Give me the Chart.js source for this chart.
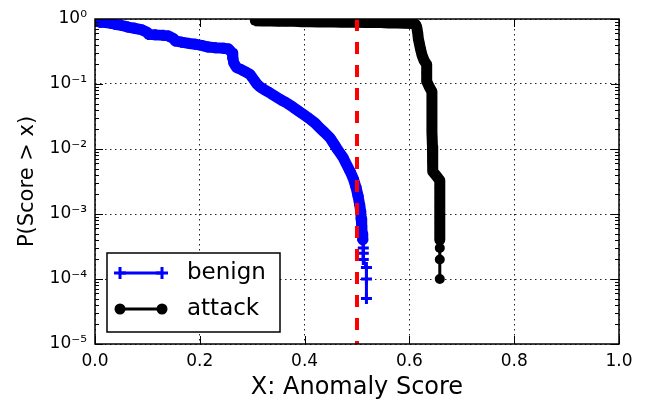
<!DOCTYPE html>
<html>
<head>
<meta charset="utf-8">
<script src="https://cdn.jsdelivr.net/npm/chart.js@4.4.0/dist/chart.umd.min.js"></script>
<style>
  html, body { margin: 0; padding: 0; background: #fff; }
  #wrap { width: 646px; height: 403px; }
</style>
</head>
<body>
<div id="wrap"><canvas id="ccdfChart" width="646" height="403"></canvas></div>
<script>
// values: score x and P(Score > x)
const benignX = [0.000, 0.005, 0.010, 0.020, 0.030, 0.038, 0.050, 0.063, 0.075, 0.090,
  0.100, 0.102, 0.115, 0.130, 0.140, 0.150, 0.153, 0.165, 0.180, 0.191,
  0.205, 0.216, 0.230, 0.245, 0.255, 0.262, 0.263, 0.265, 0.270, 0.280,
  0.290, 0.296, 0.302, 0.309, 0.315, 0.325, 0.335, 0.345, 0.355, 0.366,
  0.378, 0.391, 0.400, 0.410, 0.420, 0.429, 0.438, 0.448, 0.456, 0.464,
  0.473, 0.480, 0.487, 0.493, 0.498, 0.502, 0.505, 0.507, 0.508, 0.509,
  0.510, 0.511, 0.512, 0.512, 0.512, 0.518, 0.518, 0.518];
const benignP = [0.95, 0.92, 0.89, 0.88, 0.86, 0.83, 0.80, 0.75, 0.72, 0.68,
  0.62, 0.58, 0.57, 0.56, 0.55, 0.50, 0.46, 0.44, 0.42, 0.41,
  0.39, 0.37, 0.36, 0.355, 0.345, 0.30, 0.25, 0.21, 0.18, 0.165,
  0.15, 0.14, 0.12, 0.10, 0.09, 0.08, 0.072, 0.064, 0.057, 0.051,
  0.044, 0.037, 0.033, 0.029, 0.025, 0.021, 0.018, 0.015, 0.012, 0.0095,
  0.0075, 0.0058, 0.0045, 0.0035, 0.0026, 0.0019, 0.0014, 0.0011, 0.00085, 0.00065,
  0.0005, 0.0004, 0.0003, 0.00025, 0.0002, 0.00015, 0.0001, 0.00005];

const attackX = [0.305, 0.320, 0.335, 0.350, 0.365, 0.380, 0.395, 0.410, 0.425, 0.440,
  0.455, 0.470, 0.485, 0.500, 0.515, 0.530, 0.545, 0.560, 0.575, 0.590,
  0.605, 0.612, 0.614, 0.616, 0.617, 0.619, 0.621, 0.624, 0.628, 0.633,
  0.633, 0.633, 0.638, 0.643, 0.643, 0.643, 0.643, 0.644, 0.644, 0.645,
  0.652, 0.658, 0.658, 0.658, 0.658, 0.658, 0.658, 0.658, 0.658, 0.658,
  0.658, 0.658];
const attackP = [0.94, 0.93, 0.93, 0.92, 0.92, 0.92, 0.91, 0.91, 0.90, 0.90,
  0.90, 0.89, 0.89, 0.89, 0.88, 0.88, 0.88, 0.87, 0.87, 0.86,
  0.85, 0.82, 0.75, 0.60, 0.50, 0.42, 0.35, 0.28, 0.23, 0.20,
  0.15, 0.11, 0.09, 0.076, 0.05, 0.03, 0.018, 0.011, 0.0065, 0.0045,
  0.0038, 0.0033, 0.0025, 0.0018, 0.0013, 0.0009, 0.0007, 0.0005, 0.0004, 0.0003,
  0.0002, 0.0001];

const thresholdX = [0.5, 0.5];
const thresholdP = [1, 0.00001];

const xTicks = [0, 0.2, 0.4, 0.6, 0.8, 1.0];
const yTicks = [1, 0.1, 0.01, 0.001, 0.0001, 0.00001];
const yExps = [0, -1, -2, -3, -4, -5];
const seriesNames = ['benign', 'attack'];

const FONT = "'DejaVu Sans', 'Liberation Sans', sans-serif";
const sup = { '0': '\u2070', '1': '\u00b9', '2': '\u00b2', '3': '\u00b3', '4': '\u2074', '5': '\u2075', '-': '\u207b' };

function toPoints(xs, ys) {
  return xs.map((x, i) => ({ x: x, y: ys[i] }));
}

// the markers sit so close together in the reference that they merge into a thick band;
// only the sparse tail (P below ~4e-4) shows the thin line between separate markers
function bandWidth(lastDense) {
  return c => (c.p1DataIndex <= lastDense ? 11 : 3);
}

// frame, inward ticks and the boxed legend
const framePlugin = {
  id: 'frame',
  afterDatasetsDraw(chart) {
    const ctx = chart.ctx;
    const a = chart.chartArea;
    const xs = chart.scales.x;
    const ys = chart.scales.y;
    ctx.save();
    ctx.strokeStyle = '#000';
    ctx.lineWidth = 1;
    // x ticks top and bottom
    xTicks.forEach(v => {
      const px = Math.round(xs.getPixelForValue(v)) + 0.5;
      ctx.beginPath();
      ctx.moveTo(px, a.bottom); ctx.lineTo(px, a.bottom - 8);
      ctx.moveTo(px, a.top); ctx.lineTo(px, a.top + 8);
      ctx.stroke();
    });
    // y ticks, majors and minors, left and right
    yExps.forEach(e => {
      for (let k = 1; k <= 9; k++) {
        const v = k * Math.pow(10, e);
        if (v > 1.0001 || v < 0.0000099) continue;
        const py = Math.round(ys.getPixelForValue(v)) + 0.5;
        const len = k === 1 ? 8 : 4;
        ctx.beginPath();
        ctx.moveTo(a.left, py); ctx.lineTo(a.left + len, py);
        ctx.moveTo(a.right, py); ctx.lineTo(a.right - len, py);
        ctx.stroke();
      }
    });
    ctx.lineWidth = 1.5;
    ctx.strokeRect(a.left, a.top, a.right - a.left, a.bottom - a.top);

    // legend box
    const lx = 107, ly = 253, lw = 173, lh = 79;
    ctx.fillStyle = '#fff';
    ctx.fillRect(lx, ly, lw, lh);
    ctx.lineWidth = 1.5;
    ctx.strokeStyle = '#000';
    ctx.strokeRect(lx, ly, lw, lh);
    const rows = [273, 309];
    chart.data.datasets.slice(0, 2).forEach((ds, i) => {
      const y = rows[i];
      ctx.strokeStyle = ds.borderColor;
      ctx.fillStyle = ds.borderColor;
      ctx.lineWidth = 3;
      ctx.beginPath();
      ctx.moveTo(120, y); ctx.lineTo(162, y);
      ctx.stroke();
      [120, 162].forEach(px => {
        if (ds.pointStyle === 'cross') {
          ctx.beginPath();
          ctx.moveTo(px - 6, y); ctx.lineTo(px + 6, y);
          ctx.moveTo(px, y - 6); ctx.lineTo(px, y + 6);
          ctx.stroke();
        } else {
          ctx.beginPath();
          ctx.arc(px, y, 5.5, 0, Math.PI * 2);
          ctx.fill();
        }
      });
      ctx.fillStyle = '#000';
      ctx.font = '23px ' + FONT;
      ctx.textBaseline = 'middle';
      ctx.textAlign = 'left';
      ctx.fillText(seriesNames[i], 187, y);
    });
    ctx.restore();
  }
};

const chartConfig = {
  type: 'scatter',
  data: {
    datasets: [
      {
        label: seriesNames[0],
        data: toPoints(benignX, benignP),
        showLine: true,
        borderColor: '#0000ff',
        backgroundColor: '#0000ff',
        borderWidth: 3,
        borderJoinStyle: 'round',
        segment: { borderWidth: bandWidth(61) },
        pointStyle: 'cross',
        pointRadius: 5.5,
        pointBorderWidth: 3,
        pointBorderColor: '#0000ff',
        order: 2
      },
      {
        label: seriesNames[1],
        data: toPoints(attackX, attackP),
        showLine: true,
        borderColor: '#000000',
        backgroundColor: '#000000',
        borderWidth: 3,
        borderJoinStyle: 'round',
        segment: { borderWidth: bandWidth(48) },
        pointStyle: 'circle',
        pointRadius: 5,
        pointBorderWidth: 0,
        order: 1
      },
      {
        label: 'threshold',
        data: toPoints(thresholdX, thresholdP),
        showLine: true,
        borderColor: '#ff0000',
        borderWidth: 4,
        borderDash: [12, 11],
        pointRadius: 0,
        order: 0
      }
    ]
  },
  options: {
    responsive: false,
    animation: false,
    layout: { padding: { top: 19, right: 27, left: 0, bottom: 0 } },
    plugins: {
      legend: { display: false },
      tooltip: { enabled: false }
    },
    scales: {
      x: {
        type: 'linear',
        min: 0,
        max: 1,
        afterFit: s => { s.height = 59; },
        afterBuildTicks: s => { s.ticks = xTicks.map(v => ({ value: v })); },
        ticks: {
          callback: v => v.toFixed(1),
          font: { family: FONT, size: 17 },
          color: '#000',
          padding: 7,
          maxRotation: 0
        },
        grid: { color: '#222', lineWidth: 1, drawTicks: false },
        border: { display: false, dash: [1.5, 3.5] },
        title: {
          display: true,
          text: 'X: Anomaly Score',
          font: { family: FONT, size: 24 },
          color: '#000',
          padding: { top: 0, bottom: 1 }
        }
      },
      y: {
        type: 'logarithmic',
        min: 0.00001,
        max: 1,
        afterFit: s => { s.width = 95; },
        afterBuildTicks: s => { s.ticks = yTicks.map(v => ({ value: v })); },
        ticks: {
          callback: (v, i) => '10' + String(yExps[i]).split('').map(c => sup[c]).join(''),
          font: { family: FONT, size: 17 },
          color: '#000',
          padding: 8
        },
        grid: { color: '#222', lineWidth: 1, drawTicks: false },
        border: { display: false, dash: [1.5, 3.5] },
        title: {
          display: true,
          text: 'P(Score > x)',
          font: { family: FONT, size: 21 },
          color: '#000',
          padding: { top: 15, bottom: 0 }
        }
      }
    }
  },
  plugins: [framePlugin]
};

const ctx = document.getElementById('ccdfChart').getContext('2d');
new Chart(ctx, chartConfig);
</script>
</body>
</html>
